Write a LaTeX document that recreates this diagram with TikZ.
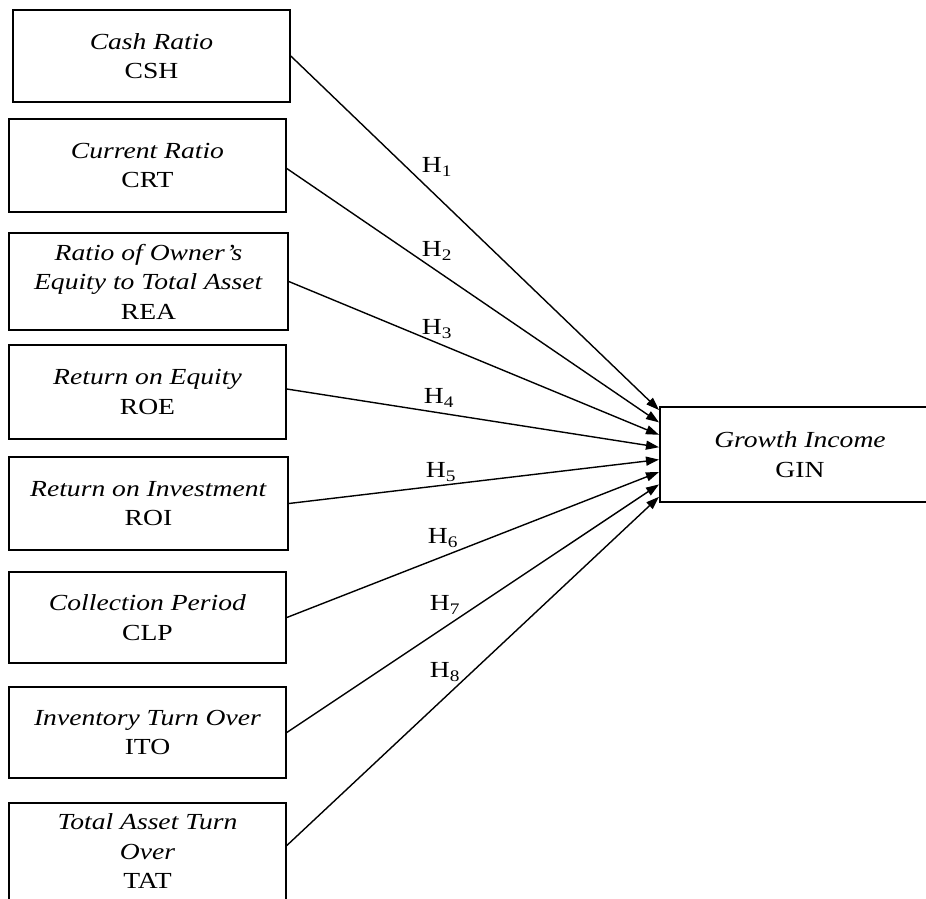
\documentclass[tikz,border=0pt]{standalone}
\usepackage{fontspec}
\setmainfont{Liberation Serif}[FakeStretch=1.2]
\usetikzlibrary{arrows.meta}
\begin{document}
\begin{tikzpicture}[x=1pt,y=-1pt,
  box/.style 2 args={draw, line width=1.6pt, minimum width=#1pt, minimum height=#2pt,
    inner sep=0pt, align=center, font=\fontsize{23}{29.5}\selectfont},
  arr/.style={line width=1.4pt, -{Triangle[length=13pt,width=9pt]}},
  hlab/.style={inner sep=0pt, font=\fontsize{23}{27}\selectfont}
]
\useasboundingbox (0,0) rectangle (926,898);

\node[box={277}{92}] (csh) at (151.5,56) {\textit{Cash Ratio}\\CSH};
\node[box={277}{93}] (crt) at (147.5,165.5) {\textit{Current Ratio}\\CRT};
\node[box={279}{97}] (rea) at (148.5,281.5) {\textit{Ratio of Owner's}\\\textit{Equity to Total Asset}\\REA};
\node[box={277}{94}] (roe) at (147.5,392) {\textit{Return on Equity}\\ROE};
\node[box={279}{93}] (roi) at (148.5,503.5) {\textit{Return on Investment}\\ROI};
\node[box={277}{91}] (clp) at (147.5,617.5) {\textit{Collection Period}\\CLP};
\node[box={277}{91}] (ito) at (147.5,732.5) {\textit{Inventory Turn Over}\\ITO};
\node[box={277}{97}] (tat) at (147.5,851.5) {\textit{Total Asset Turn}\\\textit{Over}\\TAT};
\node[box={280}{95}] (gin) at (800,454.5) {\textit{Growth Income}\\GIN};

\coordinate (t1) at (659,410);
\coordinate (t2) at (659,422.4);
\coordinate (t3) at (659,434.8);
\coordinate (t4) at (659,447.2);
\coordinate (t5) at (659,459.6);
\coordinate (t6) at (659,472);
\coordinate (t7) at (659,484.4);
\coordinate (t8) at (659,496.8);

\draw[arr] (csh.east) -- (t1);
\draw[arr] ([yshift=-3pt]crt.east) -- (t2);
\draw[arr] (rea.east) -- (t3);
\draw[arr] ([yshift=3pt]roe.east) -- (t4);
\draw[arr] (roi.east) -- (t5);
\draw[arr] (clp.east) -- (t6);
\draw[arr] (ito.east) -- (t7);
\draw[arr] ([yshift=6pt]tat.east) -- (t8);

\node[hlab] (h1) at (437,167) {H\textsubscript{1}};
\node[hlab] (h2) at (437,251) {H\textsubscript{2}};
\node[hlab] (h3) at (437,329) {H\textsubscript{3}};
\node[hlab] (h4) at (439,398) {H\textsubscript{4}};
\node[hlab] (h5) at (441,472) {H\textsubscript{5}};
\node[hlab] (h6) at (443,538) {H\textsubscript{6}};
\node[hlab] (h7) at (445,605) {H\textsubscript{7}};
\node[hlab] (h8) at (445,672) {H\textsubscript{8}};
\end{tikzpicture}
\end{document}
